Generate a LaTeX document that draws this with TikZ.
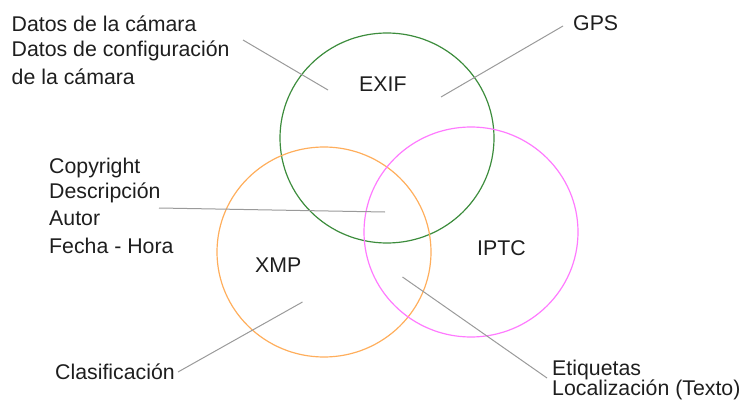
\documentclass[tikz,border=0pt]{standalone}
\usepackage{fontspec}
\setmainfont{Liberation Sans}
\definecolor{txt}{HTML}{1E1E1E}
\definecolor{exifc}{HTML}{3C8C3C}
\definecolor{xmpc}{HTML}{FFAE5C}
\definecolor{iptcc}{HTML}{FF7AFF}
\definecolor{linec}{HTML}{9A9A9A}
\begin{document}
\begin{tikzpicture}[x=1pt,y=-1pt,
  lbl/.style={anchor=base west,inner sep=0pt,text=txt,font=\fontsize{21.3}{24}\selectfont},
  set/.style={ellipse,draw=#1,line width=1.2pt,minimum width=214pt,minimum height=210pt,inner sep=0pt},
  lead/.style={draw=linec,line width=1pt}]
\useasboundingbox (0,0) rectangle (744,401);
\usetikzlibrary{shapes.geometric}
% circles
\node[set=exifc] (exif) at (387,138) {};
\node[set=xmpc]  (xmp)  at (324,252) {};
\node[set=iptcc] (iptc) at (471,232) {};
% circle labels
\node[lbl] (texif) at (359,92) {EXIF};
\node[lbl] (txmp)  at (255,272) {XMP};
\node[lbl] (tiptc) at (477,255) {IPTC};
% outer labels
\node[lbl] (d1) at (11.5,32) {Datos de la cámara};
\node[lbl] (d2) at (11.5,57) {Datos de configuración};
\node[lbl] (d3) at (11.5,85) {de la cámara};
\node[lbl] (gps) at (573,31) {GPS};
\node[lbl] (c1) at (49,173) {Copyright};
\node[lbl] (c2) at (49,198) {Descripción};
\node[lbl] (c3) at (49,225) {Autor};
\node[lbl] (c4) at (49,253) {Fecha - Hora};
\node[lbl] (cla) at (55,379) {Clasificación};
\node[lbl] (e1) at (552,375) {Etiquetas};
\node[lbl] (e2) at (552,395) {Localización (Texto)};
% leader end points
\coordinate (pd0) at (243,40);   \coordinate (pd1) at (328,90);
\coordinate (pg0) at (563,26);   \coordinate (pg1) at (441,97);
\coordinate (pc0) at (159,208);  \coordinate (pc1) at (385,212);
\coordinate (pk0) at (178,372);  \coordinate (pk1) at (302.5,302);
\coordinate (pe0) at (547,378);  \coordinate (pe1) at (402.5,277);
\draw[lead] (pd0) -- (pd1);
\draw[lead] (pg0) -- (pg1);
\draw[lead] (pc0) -- (pc1);
\draw[lead] (pk0) -- (pk1);
\draw[lead] (pe0) -- (pe1);
\end{tikzpicture}
\end{document}
